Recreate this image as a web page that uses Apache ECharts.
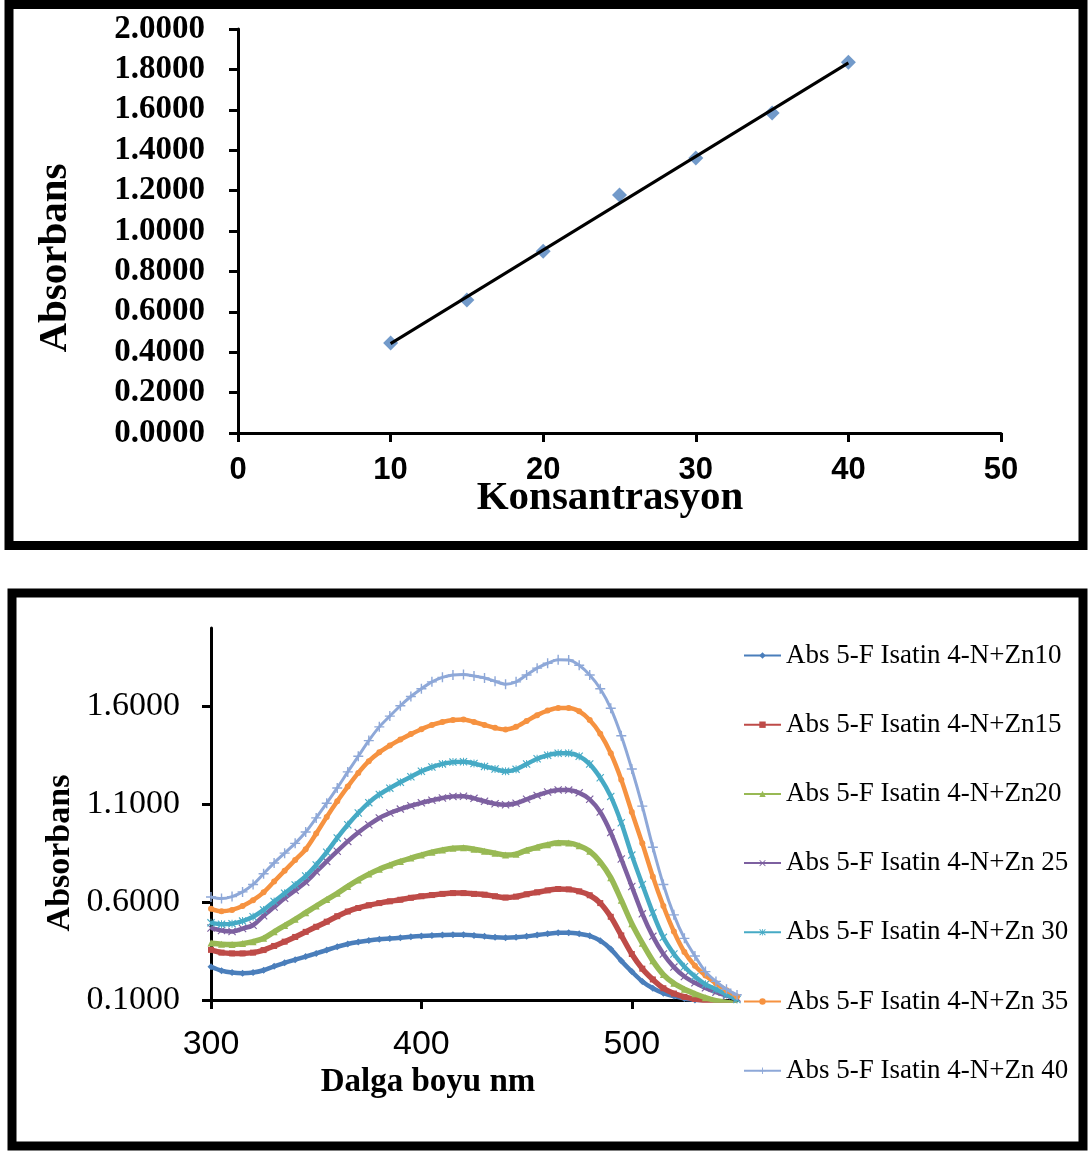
<!DOCTYPE html>
<html>
<head>
<meta charset="utf-8">
<script src="https://cdn.jsdelivr.net/npm/echarts@6/dist/echarts.min.js"></script>
<style>
html, body { margin: 0; padding: 0; background: #ffffff; }
#chart { width: 1088px; height: 1151px; }
</style>
</head>
<body>
<div id="chart"></div>
<script>
// Calibration: absorbance vs. concentration
const konsantrasyon = [10, 15, 20, 25, 30, 35, 40];
const absorbans = [0.445, 0.658, 0.900, 1.178, 1.361, 1.584, 1.836];
const calXTicks = [0, 10, 20, 30, 40, 50];

// UV-Vis spectra, wavelength in nm
const dalgaBoyu = [300, 305, 310, 315, 320, 325, 330, 335, 340, 345, 350, 355, 360, 365, 370, 375, 380, 385, 390, 395,
  400, 405, 410, 415, 420, 425, 430, 435, 440, 445, 450, 455, 460, 465, 470, 475, 480, 485, 490, 495,
  500, 505, 510, 515, 520, 525, 530, 535, 540, 545, 550];
const specXTicks = [300, 400, 500];
const specYTicks = [0.1, 0.6, 1.1, 1.6];

const zn10 = [0.270, 0.250, 0.240, 0.237, 0.240, 0.252, 0.272, 0.290, 0.306, 0.322, 0.338, 0.355, 0.372, 0.386, 0.396, 0.404, 0.410, 0.414, 0.418, 0.423,
  0.427, 0.430, 0.432, 0.433, 0.433, 0.430, 0.425, 0.420, 0.418, 0.420, 0.425, 0.432, 0.438, 0.443, 0.443, 0.438, 0.428, 0.403, 0.360, 0.300,
  0.245, 0.195, 0.160, 0.135, 0.120, 0.108, 0.100, 0.090, 0.082, 0.075, 0.070];
const zn15 = [0.356, 0.342, 0.338, 0.338, 0.342, 0.355, 0.376, 0.398, 0.422, 0.448, 0.474, 0.500, 0.528, 0.552, 0.570, 0.584, 0.595, 0.604, 0.612, 0.622,
  0.630, 0.636, 0.642, 0.646, 0.646, 0.642, 0.638, 0.630, 0.623, 0.628, 0.640, 0.650, 0.660, 0.667, 0.665, 0.655, 0.635, 0.595, 0.525, 0.430,
  0.335, 0.260, 0.205, 0.160, 0.133, 0.116, 0.105, 0.097, 0.090, 0.083, 0.077];
const zn20 = [0.391, 0.385, 0.383, 0.388, 0.398, 0.415, 0.448, 0.480, 0.512, 0.546, 0.580, 0.613, 0.645, 0.680, 0.713, 0.743, 0.768, 0.789, 0.808, 0.825,
  0.840, 0.855, 0.866, 0.875, 0.878, 0.870, 0.860, 0.850, 0.840, 0.845, 0.865, 0.880, 0.893, 0.903, 0.902, 0.888, 0.860, 0.805, 0.725, 0.610,
  0.490, 0.390, 0.300, 0.230, 0.185, 0.155, 0.132, 0.112, 0.097, 0.088, 0.080];
const zn25 = [0.468, 0.455, 0.450, 0.465, 0.482, 0.530, 0.575, 0.620, 0.660, 0.702, 0.755, 0.808, 0.860, 0.910, 0.955, 0.995, 1.030, 1.055, 1.075, 1.092,
  1.107, 1.120, 1.132, 1.140, 1.141, 1.130, 1.115, 1.102, 1.097, 1.105, 1.125, 1.145, 1.162, 1.173, 1.172, 1.158, 1.125, 1.060, 0.955, 0.820,
  0.680, 0.540, 0.425, 0.335, 0.268, 0.220, 0.188, 0.162, 0.140, 0.122, 0.110];
const zn30 = [0.494, 0.487, 0.490, 0.503, 0.525, 0.560, 0.603, 0.645, 0.688, 0.733, 0.790, 0.855, 0.928, 0.995, 1.055, 1.108, 1.150, 1.182, 1.212, 1.240,
  1.268, 1.290, 1.306, 1.315, 1.317, 1.308, 1.293, 1.280, 1.268, 1.278, 1.305, 1.332, 1.350, 1.360, 1.360, 1.345, 1.305, 1.235, 1.140, 1.005,
  0.840, 0.690, 0.545, 0.420, 0.335, 0.270, 0.220, 0.180, 0.155, 0.128, 0.102];
const zn35 = [0.566, 0.553, 0.560, 0.580, 0.610, 0.650, 0.705, 0.760, 0.815, 0.870, 0.950, 1.035, 1.115, 1.190, 1.260, 1.320, 1.365, 1.400, 1.430, 1.458,
  1.483, 1.505, 1.520, 1.530, 1.533, 1.520, 1.505, 1.490, 1.482, 1.495, 1.525, 1.555, 1.578, 1.592, 1.592, 1.575, 1.530, 1.460, 1.360, 1.225,
  1.060, 0.900, 0.730, 0.580, 0.450, 0.345, 0.275, 0.225, 0.185, 0.150, 0.118];
const zn40 = [0.626, 0.618, 0.628, 0.652, 0.690, 0.745, 0.800, 0.850, 0.900, 0.958, 1.030, 1.105, 1.183, 1.265, 1.345, 1.425, 1.495, 1.550, 1.603, 1.650,
  1.690, 1.725, 1.748, 1.760, 1.763, 1.755, 1.745, 1.728, 1.713, 1.725, 1.760, 1.795, 1.820, 1.838, 1.837, 1.810, 1.760, 1.690, 1.590, 1.450,
  1.280, 1.090, 0.880, 0.690, 0.535, 0.415, 0.325, 0.245, 0.195, 0.155, 0.126];

const seriesNames = [
  'Abs 5-F Isatin 4-N+Zn10',
  'Abs 5-F Isatin 4-N+Zn15',
  'Abs 5-F Isatin 4-N+Zn20',
  'Abs 5-F Isatin 4-N+Zn 25',
  'Abs 5-F Isatin 4-N+Zn 30',
  'Abs 5-F Isatin 4-N+Zn 35',
  'Abs 5-F Isatin 4-N+Zn 40'
];
const seriesValues = [zn10, zn15, zn20, zn25, zn30, zn35, zn40];

const SERIF = '"Liberation Serif", "Times New Roman", serif';
const SANS = '"Liberation Sans", Arial, sans-serif';

// Least-squares trend line through the calibration points
function trendLine(xs, ys) {
  const n = xs.length;
  const mx = xs.reduce((a, b) => a + b, 0) / n;
  const my = ys.reduce((a, b) => a + b, 0) / n;
  let sxy = 0, sxx = 0;
  for (let i = 0; i < n; i++) { sxy += (xs[i] - mx) * (ys[i] - my); sxx += (xs[i] - mx) ** 2; }
  const k = sxy / sxx, b = my - k * mx;
  const x0 = Math.min(...xs), x1 = Math.max(...xs);
  return [[x0, k * x0 + b], [x1, k * x1 + b]];
}

const markerPaths = {
  x: 'path://M1,0L5,4L9,0L10,1L6,5L10,9L9,10L5,6L1,10L0,9L4,5L0,1Z',
  star: 'path://M1,0L5,4L9,0L10,1L6,5L10,9L9,10L5,6L1,10L0,9L4,5L0,1Z M4.4,0H5.6V10H4.4Z',
  plus: 'path://M4.3,0H5.7V4.3H10V5.7H5.7V10H4.3V5.7H0V4.3H4.3Z'
};
const specStyles = [
  { color: '#4A7EBB', symbol: 'diamond', size: 7, width: 4.5 },
  { color: '#BE4B48', symbol: 'rect', size: 6, width: 5.5 },
  { color: '#98B954', symbol: 'triangle', size: 7, width: 5.5 },
  { color: '#7D60A0', symbol: markerPaths.x, size: 8, width: 4.5 },
  { color: '#46AAC5', symbol: markerPaths.star, size: 8, width: 4.5 },
  { color: '#F69240', symbol: 'circle', size: 6, width: 4.5 },
  { color: '#8EA8D8', symbol: markerPaths.plus, size: 10, width: 3 }
];

const spectraSeries = seriesNames.map((name, i) => ({
  name: name,
  type: 'line',
  xAxisIndex: 1,
  yAxisIndex: 1,
  data: dalgaBoyu.map((w, j) => [w, seriesValues[i][j]]),
  smooth: 0.3,
  showSymbol: true,
  showAllSymbol: true,
  symbol: specStyles[i].symbol,
  symbolSize: specStyles[i].size,
  lineStyle: { color: specStyles[i].color, width: specStyles[i].width, join: 'round' },
  itemStyle: { color: specStyles[i].color, borderWidth: 0 },
  emphasis: { disabled: true },
  z: 3 + i
}));

const chart = echarts.init(document.getElementById('chart'), null, { renderer: 'canvas' });

chart.setOption({
  animation: false,
  backgroundColor: '#ffffff',
  grid: [
    { left: 238, top: 29, width: 763, height: 404, containLabel: false },
    { left: 211, top: 628, width: 526, height: 372, containLabel: false }
  ],
  xAxis: [
    {
      gridIndex: 0, type: 'value', min: 0, max: 50, interval: 10,
      axisLine: { show: true, onZero: false, lineStyle: { color: '#000', width: 3 } },
      axisTick: { show: true, length: 9, lineStyle: { color: '#000', width: 3 }, customValues: calXTicks },
      axisLabel: { margin: 22, color: '#000', fontFamily: SANS, fontWeight: 'bold', fontSize: 31, customValues: calXTicks },
      splitLine: { show: false }
    },
    {
      gridIndex: 1, type: 'value', min: 300, max: 550,
      axisLine: { show: true, onZero: false, lineStyle: { color: '#000', width: 3 } },
      axisTick: { show: true, length: 9, lineStyle: { color: '#000', width: 3 }, customValues: specXTicks },
      axisLabel: { margin: 28, color: '#000', fontFamily: SANS, fontSize: 34, customValues: specXTicks },
      splitLine: { show: false }
    }
  ],
  yAxis: [
    {
      gridIndex: 0, type: 'value', min: 0, max: 2, interval: 0.2,
      axisLine: { show: true, onZero: false, lineStyle: { color: '#000', width: 3 } },
      axisTick: { show: true, length: 9, lineStyle: { color: '#000', width: 3 } },
      axisLabel: { margin: 33, color: '#000', fontFamily: SERIF, fontWeight: 'bold', fontSize: 33,
        formatter: v => v.toFixed(4) },
      splitLine: { show: false }
    },
    {
      gridIndex: 1, type: 'value', min: 0.1, max: 2.0,
      axisLine: { show: true, onZero: false, lineStyle: { color: '#000', width: 3 } },
      axisTick: { show: true, length: 9, lineStyle: { color: '#000', width: 3 }, customValues: specYTicks },
      axisLabel: { margin: 31, color: '#000', fontFamily: SERIF, fontSize: 34, customValues: specYTicks,
        formatter: v => v.toFixed(4) },
      splitLine: { show: false }
    }
  ],
  legend: {
    data: seriesNames,
    orient: 'vertical',
    left: 743,
    top: 642,
    itemWidth: 37,
    itemHeight: 8,
    itemGap: 42.2,
    padding: 0,
    selectedMode: false,
    textStyle: { color: '#000', fontFamily: SERIF, fontSize: 27, lineHeight: 27 }
  },
  series: [
    {
      name: 'Konsantrasyon',
      type: 'scatter',
      xAxisIndex: 0, yAxisIndex: 0,
      data: konsantrasyon.map((c, i) => [c, absorbans[i]]),
      symbol: 'diamond',
      symbolSize: 15,
      itemStyle: { color: '#4F81BD' },
      z: 5
    },
    {
      name: 'Trend',
      type: 'line',
      xAxisIndex: 0, yAxisIndex: 0,
      data: trendLine(konsantrasyon, absorbans),
      showSymbol: false,
      lineStyle: { color: '#000', width: 3 },
      z: 6
    },
    ...spectraSeries
  ],
  graphic: [
    { type: 'rect', shape: { x: 9, y: 4.5, width: 1074, height: 541 }, style: { fill: 'none', stroke: '#000', lineWidth: 9 }, z: 100 },
    { type: 'rect', shape: { x: 12, y: 593, width: 1071, height: 553 }, style: { fill: 'none', stroke: '#000', lineWidth: 9 }, z: 100 },
    { type: 'text', x: 55, y: 258, rotation: Math.PI / 2,
      style: { text: 'Absorbans', font: 'bold 41px ' + SERIF, fill: '#000', align: 'center', verticalAlign: 'middle' } },
    { type: 'text', x: 610, y: 498,
      style: { text: 'Konsantrasyon', font: 'bold 41px ' + SERIF, fill: '#000', align: 'center', verticalAlign: 'middle' } },
    { type: 'text', x: 60, y: 853, rotation: Math.PI / 2,
      style: { text: 'Absorbans', font: 'bold 34px ' + SERIF, fill: '#000', align: 'center', verticalAlign: 'middle' } },
    { type: 'text', x: 428, y: 1082,
      style: { text: 'Dalga boyu nm', font: 'bold 33px ' + SERIF, fill: '#000', align: 'center', verticalAlign: 'middle' } }
  ]
});
</script>
</body>
</html>
